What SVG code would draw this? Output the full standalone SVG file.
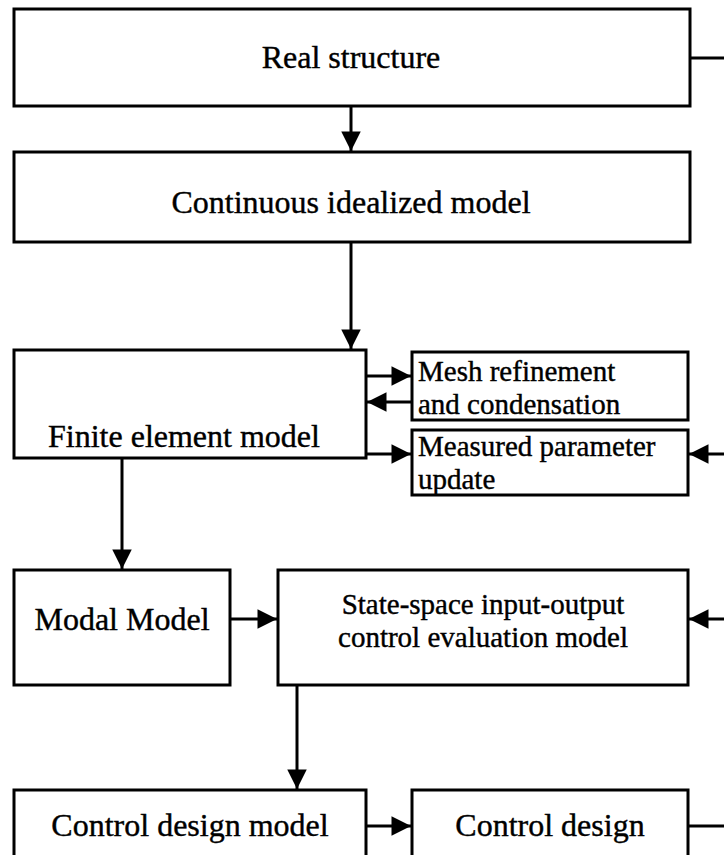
<svg xmlns="http://www.w3.org/2000/svg" width="724" height="855" viewBox="0 0 724 855">
  <defs>
    <style>
      .box { fill: #ffffff; stroke: #000000; stroke-width: 3; }
      .lbl { font-family: "Liberation Serif", "Times New Roman", "DejaVu Serif", serif; font-size: 32px; fill: #000000; stroke: #000000; stroke-width: 0.4; }
      .two { font-size: 29px; }
      .mid { text-anchor: middle; }
      .wire { fill: none; stroke: #000000; stroke-width: 3; }
    </style>
    <marker id="head" viewBox="0 0 10 10" refX="10" refY="5" markerWidth="7.5" markerHeight="6.5" markerUnits="strokeWidth" orient="auto">
      <path d="M0,0 L10,5 L0,10 Z" fill="#000000"/>
    </marker>
  </defs>
  <rect width="724" height="855" fill="#ffffff"/>

  <!-- flow connectors -->
  <g id="connectors">
    <line class="wire" x1="690" y1="58" x2="724" y2="58"/>
    <line class="wire" x1="351" y1="106" x2="351" y2="151" marker-end="url(#head)"/>
    <line class="wire" x1="351" y1="242" x2="351" y2="349" marker-end="url(#head)"/>
    <line class="wire" x1="366" y1="376" x2="411" y2="376" marker-end="url(#head)"/>
    <line class="wire" x1="412" y1="402" x2="367" y2="402" marker-end="url(#head)"/>
    <line class="wire" x1="366" y1="454" x2="411" y2="454" marker-end="url(#head)"/>
    <line class="wire" x1="724" y1="454" x2="689" y2="454" marker-end="url(#head)"/>
    <line class="wire" x1="122" y1="458" x2="122" y2="569" marker-end="url(#head)"/>
    <line class="wire" x1="230" y1="619" x2="277" y2="619" marker-end="url(#head)"/>
    <line class="wire" x1="724" y1="619" x2="689" y2="619" marker-end="url(#head)"/>
    <line class="wire" x1="297" y1="685" x2="297" y2="789" marker-end="url(#head)"/>
    <line class="wire" x1="366" y1="826" x2="411" y2="826" marker-end="url(#head)"/>
    <line class="wire" x1="688" y1="826" x2="724" y2="826"/>
  </g>

  <g id="real-structure">
    <rect class="box" x="14" y="9" width="676" height="97"/>
    <text class="lbl mid" x="351" y="68">Real structure</text>
  </g>

  <g id="continuous-model">
    <rect class="box" x="14" y="152" width="676" height="90"/>
    <text class="lbl mid" x="351" y="213">Continuous idealized model</text>
  </g>

  <g id="finite-element-model">
    <rect class="box" x="14" y="350" width="352" height="108"/>
    <text class="lbl" x="48" y="447">Finite element model</text>
  </g>

  <g id="mesh-refinement">
    <rect class="box" x="412" y="352" width="276" height="68"/>
    <text class="lbl two" x="418" y="381">Mesh refinement</text>
    <text class="lbl two" x="418" y="414">and condensation</text>
  </g>

  <g id="measured-update">
    <rect class="box" x="412" y="430" width="276" height="65"/>
    <text class="lbl two" x="418" y="456">Measured parameter</text>
    <text class="lbl two" x="418" y="489">update</text>
  </g>

  <g id="modal-model">
    <rect class="box" x="14" y="570" width="216" height="115"/>
    <text class="lbl mid" x="122" y="630">Modal Model</text>
  </g>

  <g id="state-space-model">
    <rect class="box" x="278" y="570" width="410" height="115"/>
    <text class="lbl two mid" x="483" y="614">State-space input-output</text>
    <text class="lbl two mid" x="483" y="647">control evaluation model</text>
  </g>

  <g id="control-design-model">
    <rect class="box" x="14" y="790" width="352" height="70"/>
    <text class="lbl mid" x="190" y="836">Control design model</text>
  </g>

  <g id="control-design">
    <rect class="box" x="412" y="790" width="276" height="70"/>
    <text class="lbl mid" x="550" y="836">Control design</text>
  </g>
</svg>
